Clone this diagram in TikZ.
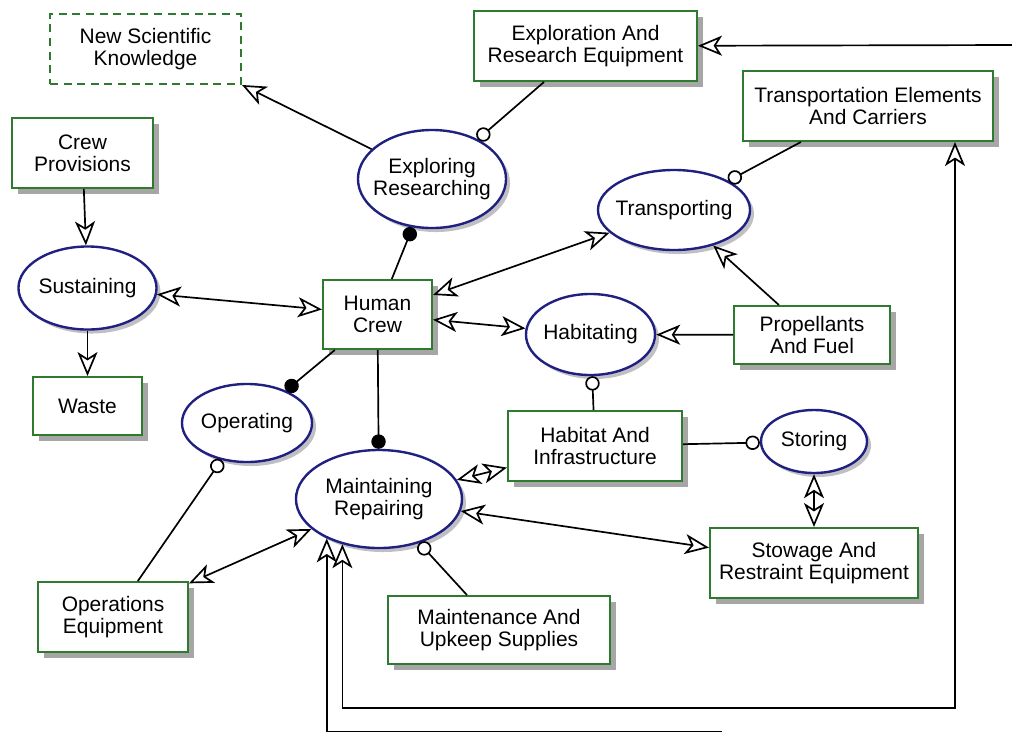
\documentclass[tikz,border=0pt]{standalone}
\usepackage{fontspec}
\setmainfont{Liberation Sans}
\usepackage{xcolor}
\usepackage{tikz}
\usetikzlibrary{shapes}
\usetikzlibrary{shapes.geometric}
\usetikzlibrary{arrows.meta}
\usetikzlibrary{shadows}
\definecolor{objgreen}{RGB}{46,122,46}
\definecolor{procblue}{RGB}{32,32,128}
\tikzset{
    objnode/.style = {rectangle, draw=objgreen, line width=1.4pt, fill=white, align=center, inner sep=0pt, minimum height=1.75cm, drop shadow={shadow xshift=0.16cm, shadow yshift=-0.16cm, fill=black!35, opacity=1}},
    envnode/.style = {rectangle, draw=objgreen, line width=1.4pt, dash pattern=on 0.2cm off 0.14cm, fill=white, align=center, inner sep=0pt, minimum height=1.75cm},
    procnode/.style = {ellipse, draw=procblue, line width=1.7pt, fill=white, align=center, inner sep=-0.4cm, drop shadow={shadow xshift=0.1cm, shadow yshift=-0.1cm, fill=procblue!15!black!25, opacity=1}},
}
\begin{document}
\begin{tikzpicture}[
    x=0.025cm, y=-0.025cm,
    font=\fontsize{14.9}{15.6}\selectfont
]
\tikzset{
    edgeres/.style = {-{Stealth[open, length=0.6cm, width=0.5cm, inset=0.16cm]}, line width=1.2pt},
    edgebi/.style = {{Stealth[open, length=0.6cm, width=0.5cm, inset=0.16cm]}-{Stealth[open, length=0.6cm, width=0.5cm, inset=0.16cm]}, line width=1.2pt},
    edgeins/.style = {-{Circle[length=0.36cm, fill=white]}, line width=1.2pt},
    edgeag/.style = {-{Circle[length=0.36cm]}, line width=1.2pt}
}
\useasboundingbox (0,0) rectangle (1012,733);
\node[envnode, minimum width=4.775cm] at (145.5,49) (nsk) {New Scientific\\Knowledge};
\node[objnode, minimum width=5.575cm] at (585.5,46) (ere) {Exploration And\\Research Equipment};
\node[objnode, minimum width=6.25cm] at (868,106) (tec) {Transportation Elements\\And Carriers};
\node[procnode, minimum width=3.7cm, minimum height=2.45cm] at (432,179) (er) {Exploring\\Researching};
\node[procnode, minimum width=3.8cm, minimum height=2cm] at (674,210) (tr) {Transporting};
\node[objnode, minimum width=3.525cm] at (82.5,153) (cp) {Crew\\Provisions};
\node[procnode, minimum width=3.45cm, minimum height=2.075cm] at (87.5,288) (su) {Sustaining};
\node[objnode, minimum width=2.725cm, minimum height=1.45cm] at (87.5,406) (wa) {Waste};
\node[objnode, minimum width=2.725cm, minimum height=1.725cm] at (377.5,314.5) (hc) {Human\\Crew};
\node[procnode, minimum width=3.25cm, minimum height=1.95cm] at (247,423) (op) {Operating};
\node[procnode, minimum width=3.225cm, minimum height=2.025cm] at (590.5,334.5) (ha) {Habitating};
\node[objnode, minimum width=3.9cm, minimum height=1.45cm] at (812,335) (pf) {Propellants\\And Fuel};
\node[objnode, minimum width=4.35cm] at (595,446) (hi) {Habitat And\\Infrastructure};
\node[procnode, minimum width=2.65cm, minimum height=1.575cm] at (814,441.5) (st) {Storing};
\node[objnode, minimum width=5.2cm] at (814,563) (sre) {Stowage And\\Restraint Equipment};
\node[procnode, minimum width=4.15cm, minimum height=2.45cm] at (379,499) (mr) {Maintaining\\Repairing};
\node[objnode, minimum width=3.75cm] at (113,617) (oe) {Operations\\Equipment};
\node[objnode, minimum width=5.55cm, minimum height=1.7cm] at (499,630) (mus) {Maintenance And\\Upkeep Supplies};
%
\coordinate (topr) at (1012,45);
\coordinate (lpb) at (955,708);
\coordinate (botr) at (722,731.5);
%
\draw[edgeres] (er) edge (nsk.south east);
\draw[edgeres] (cp) edge (su);
\draw[edgeres] (su) edge (wa);
\draw[edgeres] (pf) edge (tr);
\draw[edgeres] (pf) edge (ha);
\draw[edgeres] (topr) -- (ere);
%
\draw[edgebi] (su) edge (hc);
\draw[edgebi] (hc) edge (tr);
\draw[edgebi] (hc) edge (ha);
\draw[edgebi] (st) edge (sre);
\draw[edgebi] (oe) edge (mr);
\draw[edgebi] (mr) edge (hi);
\draw[edgebi] (mr) edge (sre);
%
\draw[edgeins] (ere) edge (er);
\draw[edgeins] (tec) edge (tr);
\draw[edgeins] (hi) edge (ha);
\draw[edgeins] (hi) edge (st);
\draw[edgeins] (oe) edge (op);
\draw[edgeins] (mus) edge (mr);
%
\draw[edgeag] (hc) edge (er);
\draw[edgeag] (hc) edge (op);
\draw[edgeag] (hc) edge (mr);
%
\draw[edgebi] (mr.-129) |- (lpb) -- (lpb |- tec.south);
\draw[edgeres] (botr) -| (mr.-143);
\end{tikzpicture}
\end{document}
